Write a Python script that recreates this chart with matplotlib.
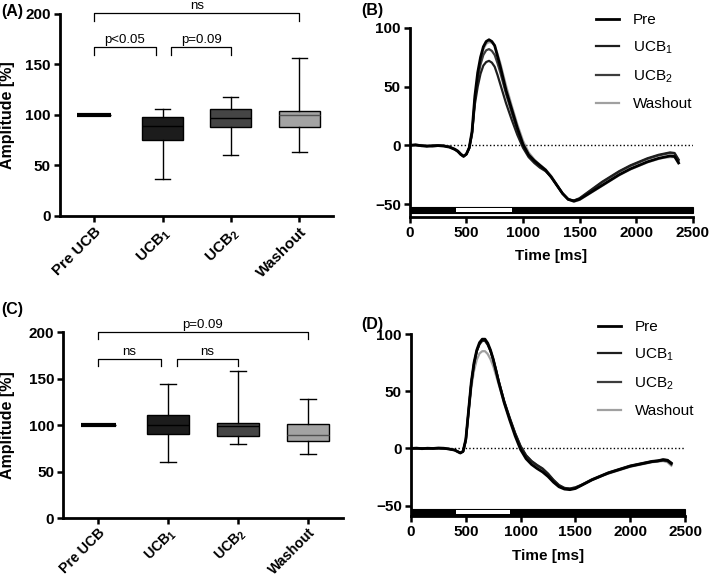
import numpy as np
import matplotlib
matplotlib.use("Agg")
from matplotlib import pyplot as plt
from matplotlib.patches import Rectangle

plt.rcParams["font.family"] = ["Liberation Sans", "DejaVu Sans"]
plt.rcParams["mathtext.fontset"] = "custom"
plt.rcParams["mathtext.rm"] = "Liberation Sans"
plt.rcParams["mathtext.bf"] = "Liberation Sans:bold"

# ---- box plot data (whislo, q1, median, q3, whishi), amplitude in %
groups = ["Pre UCB", r"UCB$_\mathbf{1}$", r"UCB$_\mathbf{2}$", "Washout"]
amp_a = [
    [100, 100, 100, 100, 100],
    [36.3, 75.2, 89.1, 98.3, 105.6],
    [60.0, 88.1, 97.4, 106.3, 118.0],
    [63.4, 88.4, 99.7, 104.0, 156.4],
]
amp_c = [
    [100, 100, 100, 100, 100],
    [59.9, 90.0, 100.4, 110.4, 143.7],
    [79.2, 88.5, 98.6, 102.5, 158.0],
    [68.5, 82.8, 88.9, 101.4, 128.3],
]
# significance brackets: (x from, x to, height, label)
sig_a = [(0, 3, 201, "ns"), (0, 0.9, 167, "p<0.05"), (1.13, 2, 167, "p=0.09")]
sig_c = [(0, 3, 200, "p=0.09"), (0, 0.9, 171, "ns"), (1.13, 2, 171, "ns")]
box_colors = ["black", "#1c1c1c", "#454545", "#a3a3a3"]

# ---- averaged traces (time in ms, amplitude in %)
t = [0, 50, 100, 150, 200, 250, 300, 350, 400,
     425, 450, 475, 500, 525, 550, 575, 600, 625, 650, 675, 700, 725, 750, 775, 800,
     850, 900, 950, 1000, 1050, 1100, 1150, 1200, 1250, 1300, 1350, 1400, 1450, 1500,
     1550, 1600, 1650, 1700, 1750, 1800, 1850, 1900, 1950, 2000, 2050, 2100, 2150,
     2200, 2250, 2300, 2340, 2375]

b_pre = [0, 0.5, -0.3, -0.8, -0.4, -0.2, -0.6, -1.5, -3.5,
         -5, -7.5, -9.3, -7.5, -2, 12, 42, 62, 75, 84, 88.5, 90, 88.5, 85, 76, 67,
         47, 31, 15, 1, -8, -13, -17, -21, -27, -34, -41, -46, -47.5, -46, -43, -40,
         -37, -34, -31, -28, -25, -22.5, -20, -18, -16, -14, -12.5, -11, -10, -9,
         -9.5, -15]
b_ucb1 = [0.3, 0.2, -0.5, -0.3, -0.8, -0.4, -0.2, -1.2, -3.5,
          -5.5, -8, -9.5, -7.5, -2.5, 10, 35, 50, 61, 68, 71, 72, 70.5, 67, 60, 52,
          36, 22, 9, -2, -10, -15, -19, -22, -27, -34, -41, -46, -47, -45, -41.5, -38,
          -34.5, -31, -28, -25, -22, -19.5, -17, -15, -13, -11, -9.5, -8, -7, -6,
          -6.5, -12]
b_ucb2 = [-0.2, 0.4, 0.1, -0.6, -0.2, 0.1, -0.4, -1.3, -3.5,
          -5, -7.5, -9.3, -7.5, -2, 11, 39, 57, 69, 77, 81, 82, 80.5, 77, 70, 62,
          44, 28, 13, 0, -9, -14, -18, -21.5, -27, -34, -41, -46, -47, -45.5, -42, -38.5,
          -35, -31.5, -28.5, -25.5, -22.5, -20, -17.5, -15.5, -13.5, -11.5, -10, -8.5,
          -7.5, -6.5, -7, -13]
b_wash = [0.2, -0.1, 0.3, -0.5, -0.3, 0, -0.5, -1.2, -3,
          -4.5, -7, -9, -7.5, -2.5, 9, 38, 58, 72, 82, 86.5, 88, 87.5, 85, 78, 70,
          51, 34, 18, 4, -6, -12, -16.5, -20.5, -26, -33.5, -41, -46, -48, -46.5, -43.5,
          -40.5, -37.5, -34.5, -31.5, -28.5, -25.5, -23, -20.5, -18.5, -16.5, -14.5,
          -13, -11.5, -10.5, -10, -10, -14]

d_pre = [0, 0.3, -0.2, 0.2, 0, 0.4, 0.2, -0.5, -1.5,
         -2.8, -4, -2.5, 8, 33, 58, 75, 86, 92.5, 95.5, 95.5, 92, 86, 78, 68, 58,
         40, 25, 11, -1, -9, -14, -17.5, -20.5, -24.5, -29.5, -33.5, -35.5, -36, -35,
         -32.5, -30, -27.5, -25.5, -23.5, -21.5, -20, -18.5, -17, -15.5, -14.5, -13.5,
         -12.5, -11.5, -11, -10, -10.5, -13]
d_ucb1 = [0.2, -0.1, 0.3, -0.2, 0.3, 0.1, -0.2, -0.6, -1.5,
          -2.6, -3.8, -2.8, 7, 32, 57, 74, 85, 91.5, 94.5, 94.5, 91, 85.5, 78, 69, 59,
          41.5, 27, 13.5, 2, -6, -11, -14.5, -17.5, -22, -27.5, -32, -34.5, -35, -34,
          -32, -29.5, -27, -25, -23, -21, -19.5, -18, -16.5, -15, -14, -13, -12, -11,
          -10.5, -9.5, -10, -12.5]
d_ucb2 = [-0.1, 0.2, 0, 0.3, -0.2, 0.2, 0, -0.4, -1.4,
          -2.7, -3.9, -2.6, 7.5, 33, 57, 74, 85, 91, 94, 94, 90.5, 85, 77.5, 68.5, 58.5,
          41, 26.5, 13, 1.5, -6.5, -11.5, -15, -18, -22.5, -28, -32.5, -35, -35.5, -34.5,
          -32.5, -30, -27.5, -25.5, -23.5, -21.5, -20, -18.5, -17, -15.5, -14.5, -13.5,
          -12.5, -11.5, -11, -10.5, -11, -14]
d_wash = [0.1, 0, 0.2, -0.1, 0.1, 0.3, 0.1, -0.5, -1.3,
          -2.5, -3.6, -2.6, 7, 31, 53, 68, 77.5, 83, 85, 85, 82.5, 78, 72, 64, 56,
          40, 26, 13, 2, -6, -11, -14.5, -17.5, -22, -27.5, -32, -34.5, -35, -34,
          -32, -30, -27.5, -25.5, -23.5, -22, -20.5, -19, -17.5, -16, -15, -14, -13,
          -12, -11.5, -11, -12, -15]

trace_labels = ["Pre", r"UCB$_\mathrm{1}$", r"UCB$_\mathrm{2}$", "Washout"]
trace_colors = ["#000000", "#1e1e1e", "#3c3c3c", "#a0a0a0"]
stim_on, stim_off = 410, 905


def style_axes(ax, size=11):
    for s in ("top", "right"):
        ax.spines[s].set_visible(False)
    for s in ("left", "bottom"):
        ax.spines[s].set_linewidth(2.0)
    ax.tick_params(direction="out", length=4.5, width=1.8, pad=2, labelsize=size)
    for lab in ax.get_xticklabels() + ax.get_yticklabels():
        lab.set_fontweight("bold")


def box_panel(ax, amps, sigs, xsize, xpad):
    stats = [dict(whislo=a[0], q1=a[1], med=a[2], q3=a[3], whishi=a[4], fliers=[])
             for a in amps]
    bp = ax.bxp(stats, positions=range(4), widths=[0.5, 0.6, 0.6, 0.6],
                patch_artist=True, showfliers=False, capwidths=0.22,
                boxprops=dict(linewidth=1.0, edgecolor="black"),
                whiskerprops=dict(linewidth=1.0, color="black"),
                capprops=dict(linewidth=1.0, color="black"),
                medianprops=dict(linewidth=1.0, color="black"))
    for patch, c in zip(bp["boxes"], box_colors):
        patch.set_facecolor(c)
    bp["medians"][0].set_linewidth(3.0)
    bp["medians"][3].set_color("#505050")

    ax.set_xlim(-0.5, 3.5)
    ax.set_ylim(0, 200)
    ax.set_yticks([0, 50, 100, 150, 200])
    ax.set_xticks(range(4))
    ax.set_xticklabels(groups, rotation=45, ha="right", rotation_mode="anchor")
    ax.set_ylabel("Amplitude [%]", fontsize=11.5, fontweight="bold")
    style_axes(ax)
    ax.tick_params(axis="x", labelsize=xsize, pad=xpad)

    for x0, x1, h, lab in sigs:
        ax.plot([x0, x0, x1, x1], [h - 8, h, h, h - 8], color="black", lw=0.9,
                clip_on=False)
        ax.text((x0 + x1) / 2, h + 4, lab, ha="center", va="baseline", fontsize=9.5)


def trace_panel(ax, traces, ybottom, leg_anchor):
    order = [3, 2, 1, 0]  # washout underneath, pre on top
    lines = [None] * 4
    for i in order:
        lw = 2.0 if i == 0 else 1.6
        lines[i], = ax.plot(t, traces[i], color=trace_colors[i], lw=lw)
    ax.axhline(0, color="black", lw=1.0, ls=(0, (1, 1.6)), zorder=0)
    ax.add_patch(Rectangle((0, -58), 2500, 5.4, fc="black", ec="black", lw=0.8,
                           clip_on=False))
    ax.add_patch(Rectangle((stim_on, -56.9), stim_off - stim_on, 3.2, fc="white",
                           ec="none", clip_on=False))
    ax.set_xlim(0, 2500)
    ax.set_ylim(ybottom, 100)
    ax.set_xticks([0, 500, 1000, 1500, 2000, 2500])
    ax.set_yticks([-50, 0, 50, 100])
    ax.set_xlabel("Time [ms]", fontsize=11, fontweight="bold")
    style_axes(ax)
    ax.legend(lines, trace_labels, loc="upper right", bbox_to_anchor=leg_anchor,
              frameon=False, fontsize=11, handlelength=1.5, labelspacing=0.8,
              handletextpad=0.9, borderaxespad=0)


fig = plt.figure(figsize=(7.09, 5.78), dpi=100)
ax_a = fig.add_axes([0.0846, 0.6263, 0.3857, 0.3495])
ax_b = fig.add_axes([0.578, 0.6246, 0.399, 0.327])
ax_c = fig.add_axes([0.0889, 0.1038, 0.3949, 0.3218])
ax_d = fig.add_axes([0.5797, 0.1073, 0.3865, 0.3148])

box_panel(ax_a, amp_a, sig_a, 11, 2)
box_panel(ax_c, amp_c, sig_c, 10.2, 0.8)
ax_a.yaxis.set_label_coords(-0.165, 0.5)
ax_c.yaxis.set_label_coords(-0.17, 0.5)

trace_panel(ax_b, [b_pre, b_ucb1, b_ucb2, b_wash], -61, (1.02, 1.11))
trace_panel(ax_d, [d_pre, d_ucb1, d_ucb2, d_wash], -59, (1.055, 1.11))
ax_b.xaxis.set_label_coords(0.5, -0.17)
ax_d.xaxis.set_label_coords(0.5, -0.18)

for x, y, lab in [(1, 4, "(A)"), (361, 3, "(B)"), (1, 302, "(C)"), (361, 317, "(D)")]:
    fig.text(x / 709, 1 - y / 578, lab, ha="left", va="top", fontsize=11.5,
             fontweight="bold")

fig.savefig("out.png", dpi=100)
